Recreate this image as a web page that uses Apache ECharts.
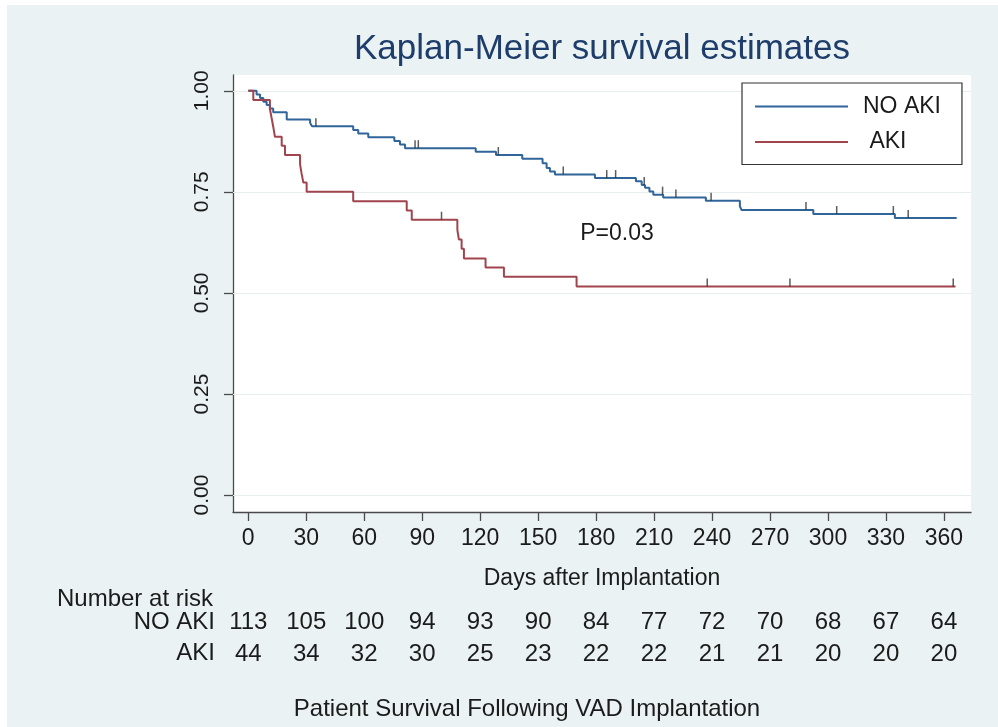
<!DOCTYPE html>
<html>
<head>
<meta charset="UTF-8"/>
<title>Kaplan-Meier survival estimates</title>
<script src="https://cdn.jsdelivr.net/npm/echarts@6/dist/echarts.min.js"></script>
<style>
    html, body { margin: 0; padding: 0; background: #fff; }
    #main { width: 998px; height: 727px; }
</style>
</head>
<body>
<div id="main"></div>
<script>
// NO AKI: day of each step and survival after it (last point = end of follow-up)
var noAkiDays = [0, 4.3, 6.1, 7.8, 9.5, 11.2, 12.9, 19.9, 32, 33, 54.3, 56.9, 62.1, 75.6, 78.5, 81.1, 117.7, 128.2, 141.8, 152.3, 154.4, 156.1, 158.7, 179.4, 200.6, 203.6, 205.3, 207.6, 209.6, 214.7, 236.8, 254.4, 255.3, 292.4, 334.6, 366.6];
var noAkiSurv = [1, .991, .982, .973, .965, .956, .947, .929, .920, .912, .903, .894, .885, .876, .867, .858, .849, .841, .832, .821, .809, .800, .793, .784, .776, .767, .760, .751, .743, .736, .728, .714, .705, .695, .685, .685];
var noAkiCensor = [35, 86.3, 88, 129.4, 163, 185.5, 190.1, 204.9, 214.4, 221.3, 239.5, 288.6, 304.5, 333.8, 341.5];

// AKI
var akiDays = [0, 2.6, 11.2, 12.1, 13, 13.8, 17.3, 19, 26.8, 27.6, 28.5, 30.2, 54.3, 82, 84.6, 108.2, 109, 110.4, 111.6, 122.8, 132.3, 169.9, 366];
var akiSurv = [1, .977, .955, .932, .909, .886, .864, .841, .818, .795, .773, .750, .727, .704, .681, .656, .632, .609, .585, .563, .540, .516, .516];
var akiCensor = [100, 237.5, 280.3, 364.8];

// number at risk table
var riskDays = [0, 30, 60, 90, 120, 150, 180, 210, 240, 270, 300, 330, 360];
var riskNoAki = [113, 105, 100, 94, 93, 90, 84, 77, 72, 70, 68, 67, 64];
var riskAki = [44, 34, 32, 30, 25, 23, 22, 22, 21, 21, 20, 20, 20];

var yTicks = [0, 0.25, 0.5, 0.75, 1];

var X_MIN = -7.9, X_MAX = 374;
var Y_MIN = -0.042, Y_MAX = 1.039;

var font = '"Liberation Sans", Arial, Helvetica, sans-serif';
var ink = '#1b1b1b';
var axisInk = '#4a4a4a';
var blue = '#30659a';
var red = '#a1444d';

function pairs(xs, ys) {
    return xs.map(function (x, i) { return [x, ys[i]]; });
}
// survival value in effect at day t (for placing censor ticks on the curve)
function survAt(days, surv, t) {
    var v = surv[0];
    for (var i = 0; i < days.length; i++) {
        if (days[i] <= t) v = surv[i];
    }
    return v;
}
function censorPts(cens, days, surv) {
    return cens.map(function (t) { return [t, survAt(days, surv, t)]; });
}
function riskAxis(counts, offset) {
    return {
        type: 'value', min: X_MIN, max: X_MAX, position: 'bottom', offset: offset,
        axisLine: {show: false}, axisTick: {show: false}, splitLine: {show: false},
        axisLabel: {
            customValues: riskDays, margin: 0, fontSize: 24, color: ink, fontFamily: font,
            formatter: function (v) {
                var i = riskDays.indexOf(v);
                return i < 0 ? '' : String(counts[i]);
            }
        }
    };
}
function txt(s, x, y, size, align, color) {
    return {
        type: 'text', x: x, y: y, silent: true,
        style: {text: s, fontSize: size, fontFamily: font, fill: color || ink, align: align, verticalAlign: 'middle'}
    };
}

var chart = echarts.init(document.getElementById('main'));
var option = {
    backgroundColor: '#eaf2f3',
    animation: false,
    grid: {left: 233, right: 27, top: 75, bottom: 215, show: true, backgroundColor: '#fff', borderWidth: 0},
    legend: {
        data: ['NO AKI', 'AKI'], orient: 'vertical', left: 742, top: 83,
        icon: 'rect', itemWidth: 93, itemHeight: 2, itemGap: 12.5,
        padding: [12, 21, 11, 13],
        backgroundColor: '#fff', borderColor: '#333', borderWidth: 1.2, borderRadius: 0,
        textStyle: {fontSize: 23, color: ink, fontFamily: font, padding: [0, 0, 0, 10]},
        formatter: function (n) { return n === 'AKI' ? ' AKI' : n; }
    },
    xAxis: [{
        type: 'value', min: X_MIN, max: X_MAX,
        name: 'Days after Implantation', nameLocation: 'middle', nameGap: 55,
        nameTextStyle: {fontSize: 23, color: ink, fontFamily: font},
        axisLine: {show: true, onZero: false, lineStyle: {color: axisInk, width: 1.3}},
        axisTick: {show: true, length: 9, customValues: riskDays, lineStyle: {color: axisInk, width: 1.3}},
        axisLabel: {customValues: riskDays, margin: 15, fontSize: 23, color: ink, fontFamily: font},
        splitLine: {show: false}
    }, riskAxis(riskNoAki, 98), riskAxis(riskAki, 130)],
    yAxis: {
        type: 'value', min: Y_MIN, max: Y_MAX,
        axisLine: {show: true, onZero: false, lineStyle: {color: axisInk, width: 1.3}},
        axisTick: {show: true, length: 9, customValues: yTicks, lineStyle: {color: axisInk, width: 1.3}},
        axisLabel: {
            customValues: yTicks, rotate: 90, margin: 20, fontSize: 21, color: ink, fontFamily: font,
            formatter: function (v) { return v.toFixed(2); }
        },
        splitLine: {show: false}
    },
    series: [{
        name: 'NO AKI', type: 'line', step: 'end', symbol: 'none', z: 3,
        data: pairs(noAkiDays, noAkiSurv),
        lineStyle: {color: blue, width: 2}, itemStyle: {color: blue},
        markLine: {
            silent: true, symbol: ['none', 'none'], label: {show: false}, z: 1,
            lineStyle: {color: '#e6eef0', width: 1, type: 'solid'},
            data: yTicks.map(function (v) { return {yAxis: v}; })
        }
    }, {
        name: 'AKI', type: 'line', step: 'end', symbol: 'none', z: 3,
        data: pairs(akiDays, akiSurv),
        lineStyle: {color: red, width: 2}, itemStyle: {color: red}
    }, {
        name: 'noaki-censor', type: 'scatter', z: 4, silent: true,
        symbol: 'rect', symbolSize: [1.5, 8], symbolOffset: [0, -4],
        itemStyle: {color: '#333'},
        data: censorPts(noAkiCensor, noAkiDays, noAkiSurv)
    }, {
        name: 'aki-censor', type: 'scatter', z: 4, silent: true,
        symbol: 'rect', symbolSize: [1.5, 8], symbolOffset: [0, -4],
        itemStyle: {color: '#333'},
        data: censorPts(akiCensor, akiDays, akiSurv)
    }],
    graphic: [
        {type: 'rect', shape: {x: 0, y: 0, width: 998, height: 5}, style: {fill: '#fff'}, silent: true},
        {type: 'rect', shape: {x: 0, y: 0, width: 7, height: 727}, style: {fill: '#fff'}, silent: true},
        txt('Kaplan-Meier survival estimates', 602, 49, 35, 'center', '#1e3d6b'),
        txt('P=0.03', 617, 234, 23, 'center'),
        txt('Number at risk', 57, 599, 24, 'left'),
        txt('NO AKI', 215, 622, 24, 'right'),
        txt('AKI', 215, 653, 24, 'right'),
        txt('Patient Survival Following VAD Implantation', 527, 709, 24, 'center')
    ]
};
chart.setOption(option);
</script>
</body>
</html>
